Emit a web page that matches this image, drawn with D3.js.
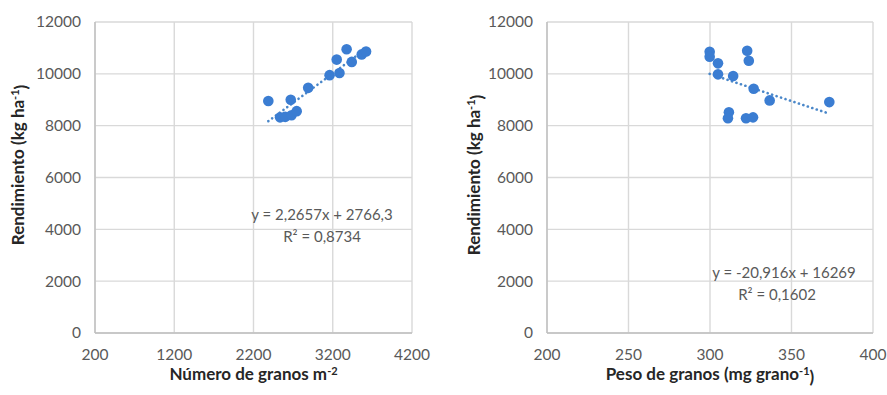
<!DOCTYPE html>
<html><head><meta charset="utf-8">
<script src="https://cdn.jsdelivr.net/npm/d3@7"></script>
<style>body{margin:0;background:#fff}svg{display:block}text{font-family:Lato,"Open Sans",sans-serif}</style>
</head><body><svg id="c" width="887" height="395"></svg>
<script>
// Left panel: Número de granos m-2 vs Rendimiento
const granosX = [2387,2670,2535,2600,2680,2745,2890,3160,3285,3250,3375,3440,3565,3620];
const granosY = [8950,9000,8320,8340,8400,8560,9460,9950,10030,10550,10950,10460,10750,10860];
// Right panel: Peso de granos vs Rendimiento
const pesoX = [299.8,299.8,304.9,304.9,314.2,322.8,323.8,326.8,336.6,373.2,311.6,311,322.1,326.4];
const pesoY = [10850,10660,10405,9980,9915,10890,10505,9425,8975,8910,8515,8285,8285,8320];
const leftXTicks = [200,1200,2200,3200,4200];
const rightXTicks = [200,250,300,350,400];
const yTicks = [0,2000,4000,6000,8000,10000,12000];
const leftFit = {slope:2.2657, intercept:2766.3, eq:"y = 2,2657x + 2766,3", r2:"R² = 0,8734"};
const rightFit = {slope:-20.916, intercept:16269, eq:"y = -20,916x + 16269", r2:"R² = 0,1602"};

const svg = d3.select("#c");
const gridCol = "#d9d9d9", tickCol = "#595959", titleCol = "#262626";
const ptCol = "#3b7dd2", lineCol = "#4a87c9";

function panel(o){
  const x = d3.scaleLinear().domain(o.xDomain).range(o.xRange);
  const y = d3.scaleLinear().domain([0,12000]).range([333,22]);
  const g = svg.append("g");
  g.selectAll("line.h").data(yTicks).join("line")
    .attr("x1",o.xRange[0]).attr("x2",o.xRange[1])
    .attr("y1",d=>y(d)).attr("y2",d=>y(d))
    .attr("stroke",gridCol).attr("stroke-width",1.4);
  g.selectAll("line.v").data(o.xTicks).join("line")
    .attr("x1",d=>x(d)).attr("x2",d=>x(d))
    .attr("y1",y(0)).attr("y2",y(12000))
    .attr("stroke",gridCol).attr("stroke-width",1.4);
  g.append("line").attr("x1",o.xRange[0]).attr("x2",o.xRange[0]).attr("y1",y(0)).attr("y2",y(12000)).attr("stroke","#bfbfbf").attr("stroke-width",1.4);
  g.append("line").attr("x1",o.xRange[0]).attr("x2",o.xRange[1]).attr("y1",y(0)).attr("y2",y(0)).attr("stroke","#bfbfbf").attr("stroke-width",1.4);
  g.selectAll("text.yt").data(yTicks).join("text")
    .attr("x",o.xRange[0]-14).attr("y",d=>y(d)).attr("dy","0.35em")
    .attr("text-anchor","end").attr("font-size",15.5).attr("fill",tickCol).text(d=>d);
  g.selectAll("text.xt").data(o.xTicks).join("text")
    .attr("x",d=>x(d)).attr("y",355).attr("dy","0.35em")
    .attr("text-anchor","middle").attr("font-size",15.5).attr("fill",tickCol).text(d=>d);
  const xs = d3.extent(o.xs);
  g.append("line")
    .attr("x1",x(xs[0])).attr("y1",y(o.fit.slope*xs[0]+o.fit.intercept))
    .attr("x2",x(xs[1])).attr("y2",y(o.fit.slope*xs[1]+o.fit.intercept))
    .attr("stroke",lineCol).attr("stroke-width",2.6).attr("stroke-linecap","round")
    .attr("stroke-dasharray","0.1,4.6");
  g.selectAll("circle").data(o.xs.map((v,i)=>[v,o.ys[i]])).join("circle")
    .attr("cx",d=>x(d[0])).attr("cy",d=>y(d[1])).attr("r",5.3).attr("fill",ptCol);
  g.append("text").attr("x",o.eqX).attr("y",o.eqY).attr("dy","0.35em").attr("text-anchor","middle")
    .attr("font-size",15).attr("fill",tickCol).text(o.fit.eq);
  g.append("text").attr("x",o.eqX2).attr("y",o.eqY+22).attr("dy","0.35em").attr("text-anchor","middle")
    .attr("font-size",15).attr("fill",tickCol).text(o.fit.r2);
  const xt = g.append("text").attr("x",(o.xRange[0]+o.xRange[1])/2).attr("y",374).attr("dy","0.35em")
    .attr("text-anchor","middle").attr("font-size",17).attr("font-weight","bold").attr("fill",titleCol);
  xt.append("tspan").text(o.xTitle[0]);
  xt.append("tspan").attr("dy","-0.45em").attr("font-size",11).text(o.xTitle[1]);
  if(o.xTitle[2]) xt.append("tspan").attr("dy","0.45em").text(o.xTitle[2]);
  const yt = g.append("text").attr("transform",`translate(${o.yTitleX},${o.yTitleY}) rotate(-90)`).attr("dy","0.35em")
    .attr("text-anchor","middle").attr("font-size",17).attr("font-weight","bold").attr("fill",titleCol);
  yt.append("tspan").text("Rendimiento (kg ha");
  yt.append("tspan").attr("dy","-0.45em").attr("font-size",11).text("-1");
  yt.append("tspan").attr("dy","0.45em").text(")");
}

panel({xDomain:[200,4200], xRange:[95,412], xTicks:leftXTicks, xs:granosX, ys:granosY, fit:leftFit,
  eqX:322, eqX2:322, eqY:215, xTitle:["Número de granos m","-2"], yTitleX:18, yTitleY:165});
panel({xDomain:[200,400], xRange:[547,873], xTicks:rightXTicks, xs:pesoX, ys:pesoY, fit:rightFit,
  eqX:784, eqX2:777, eqY:273, xTitle:["Peso de granos (mg grano","-1",")"], yTitleX:474, yTitleY:175});
</script></body></html>
